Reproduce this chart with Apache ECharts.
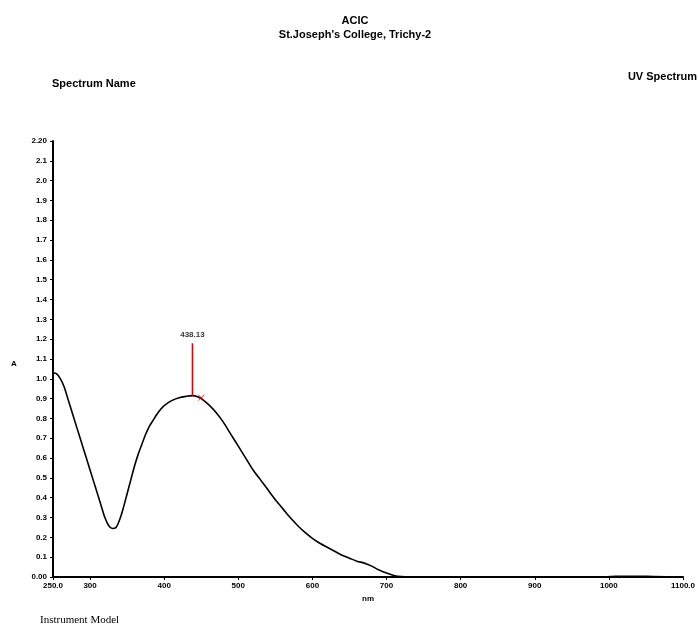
<!DOCTYPE html>
<html><head><meta charset="utf-8">
<script src="https://cdn.jsdelivr.net/npm/echarts@6/dist/echarts.min.js"></script>
<style>html,body{margin:0;padding:0;background:#fff}#c{width:698px;height:640px}</style>
</head><body><div id="c"></div>
<script>
const wavelengths = [250,255,260,265,270,275,280,285,290,295,300,305,310,315,320,325,330,335,340,345,350,355,360,365,370,375,380,385,390,395,400,410,420,430,438,445,450,460,470,480,490,500,510,520,530,540,550,560,570,580,590,600,610,620,630,640,650,660,670,680,690,700,710,720,730,800,900,1000,1020,1040,1060,1100];
const absorbance = [1.03,1.025,1.0,0.96,0.90,0.84,0.78,0.72,0.66,0.60,0.54,0.48,0.42,0.36,0.30,0.26,0.245,0.25,0.29,0.35,0.42,0.49,0.56,0.62,0.67,0.72,0.76,0.79,0.82,0.845,0.865,0.89,0.905,0.912,0.915,0.91,0.90,0.87,0.83,0.78,0.72,0.66,0.60,0.54,0.49,0.44,0.39,0.345,0.30,0.26,0.225,0.195,0.17,0.15,0.13,0.11,0.095,0.08,0.07,0.055,0.035,0.02,0.008,0.002,0,0,0,0.002,0.004,0.004,0.002,0];
const peakWavelength = 438.13;
const peakLine = [0.915, 1.18];
const crossMark = [450, 0.905];
const xTickValues = [250,300,400,500,600,700,800,900,1000,1100];

const chart = echarts.init(document.getElementById('c'), null, {renderer:'canvas'});
const tickFont = {fontFamily:'Liberation Sans', fontWeight:'bold', fontSize:8, color:'#000'};
chart.setOption({
  animation:false,
  backgroundColor:'#fff',
  grid:{left:53, right:8, top:141, bottom:63, containLabel:false},
  graphic:[
    {type:'text', x:355, y:15, style:{text:'ACIC', font:'bold 11px Liberation Sans', fill:'#000', textAlign:'center'}},
    {type:'text', x:355, y:29, style:{text:"St.Joseph's College, Trichy-2", font:'bold 11px Liberation Sans', fill:'#000', textAlign:'center'}},
    {type:'text', x:697, y:71, style:{text:'UV Spectrum', font:'bold 11px Liberation Sans', fill:'#000', textAlign:'right'}},
    {type:'text', x:52, y:78, style:{text:'Spectrum Name', font:'bold 11px Liberation Sans', fill:'#000'}},
    {type:'text', x:11, y:360, style:{text:'A', font:'bold 8px Liberation Sans', fill:'#000'}},
    {type:'text', x:40, y:615, style:{text:'Instrument Model', font:'11px Liberation Serif', fill:'#000'}}
  ],
  xAxis:{
    type:'value', min:250, max:1100,
    name:'nm', nameLocation:'middle', nameGap:13,
    nameTextStyle:{fontFamily:'Liberation Sans', fontWeight:'bold', fontSize:8, color:'#000'},
    axisLine:{show:true, onZero:false, lineStyle:{color:'#000', width:2}},
    axisTick:{show:true, length:3, customValues:xTickValues, lineStyle:{color:'#000'}},
    axisLabel:Object.assign({customValues:xTickValues, margin:5,
      formatter:v => (v===250||v===1100) ? v.toFixed(1) : String(v)}, tickFont),
    splitLine:{show:false}
  },
  yAxis:{
    type:'value', min:0, max:2.2, interval:0.1,
    axisLine:{show:true, lineStyle:{color:'#000', width:2}},
    axisTick:{show:true, length:3, lineStyle:{color:'#000'}},
    axisLabel:Object.assign({margin:6,
      formatter:v => { const r=Math.round(v*10)/10; return (r===0||r===2.2) ? r.toFixed(2) : r.toFixed(1); }}, tickFont),
    splitLine:{show:false}
  },
  series:[
    {type:'line', data:wavelengths.map((w,i)=>[w,absorbance[i]]), showSymbol:false, smooth:0.3,
     lineStyle:{color:'#000', width:1.6}, z:3},
    {type:'line', data:[[peakWavelength,peakLine[0]],[peakWavelength,peakLine[1]]], showSymbol:false,
     lineStyle:{color:'#e00000', width:1.5}, z:4},
    {type:'scatter', data:[[peakWavelength,peakLine[1]]], symbolSize:2, itemStyle:{color:'rgba(0,0,0,0)'}, z:4,
     label:{show:true, position:'top', distance:3, formatter:String(peakWavelength),
       fontFamily:'Liberation Sans', fontWeight:'bold', fontSize:8, color:'#000'}},
    {type:'scatter', data:[crossMark], symbol:'path://M0,0L10,10M10,0L0,10', symbolSize:6,
     itemStyle:{color:'none', borderColor:'#e00000', borderWidth:1}, z:5}
  ]
});
</script></body></html>
